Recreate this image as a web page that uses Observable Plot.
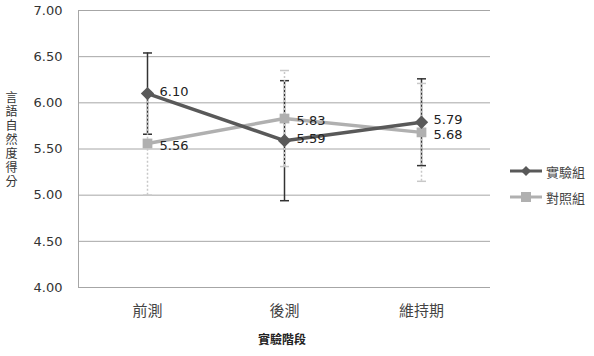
<!DOCTYPE html>
<html><head><meta charset="utf-8">
<script src="https://cdn.jsdelivr.net/npm/d3@7"></script>
<script src="https://cdn.jsdelivr.net/npm/@observablehq/plot@0.6"></script>
<style>
body{margin:0;background:#fff;font-family:"Noto Sans CJK TC","DejaVu Sans",sans-serif;}
#wrap{position:relative;width:594px;height:356px;}
#ytitle{position:absolute;left:3px;top:91px;writing-mode:vertical-rl;font-size:12px;color:#333;letter-spacing:2px;}
#xtitle{position:absolute;left:0;width:564px;top:330px;text-align:center;font-size:12px;color:#222;font-weight:bold;}
#legend{position:absolute;left:510px;top:158px;font-size:13px;color:#444;}
#legend div{display:flex;align-items:center;height:26px;}
#legend svg{margin-right:4px;}
</style></head>
<body><div id="wrap"><div id="chart"></div>
<div id="ytitle"></div><div id="xtitle"></div><div id="legend"></div></div>
<script>
const phases = ["前測", "後測", "維持期"];
const seriesNames = ["實驗組", "對照組"];
const expMean = [6.10, 5.59, 5.79];
const expSD = [0.44, 0.65, 0.47];
const ctlMean = [5.56, 5.83, 5.68];
const ctlSD = [0.56, 0.52, 0.53];
const yTicks = [4.0, 4.5, 5.0, 5.5, 6.0, 6.5, 7.0];
const yTitle = "言語自然度得分";
const xTitle = "實驗階段";
const colors = ["#595959", "#b0b0b0"];

const rows = [];
phases.forEach((p, i) => {
  rows.push({phase: p, group: seriesNames[0], mean: expMean[i], sd: expSD[i]});
  rows.push({phase: p, group: seriesNames[1], mean: ctlMean[i], sd: ctlSD[i]});
});
const exp = rows.filter(d => d.group === seriesNames[0]);
const ctl = rows.filter(d => d.group === seriesNames[1]);

const cap = {draw(ctx) { ctx.moveTo(-4.5, 0); ctx.lineTo(4.5, 0); }};

const chart = Plot.plot({
  width: 594, height: 356,
  marginLeft: 78, marginRight: 104, marginTop: 10, marginBottom: 69,
  style: {fontFamily: "'DejaVu Sans', sans-serif", fontSize: "13px", color: "#333"},
  x: {type: "point", domain: phases, padding: 0.5, label: null, tickSize: 0, tickPadding: 18},
  y: {domain: [4, 7], ticks: yTicks, tickFormat: d3.format(".2f"), label: null, tickSize: 0, tickPadding: 16},
  marks: [
    Plot.gridY(yTicks, {stroke: "#a6a6a6", strokeOpacity: 1, strokeWidth: 1}),
    Plot.frame({anchor: "left", stroke: "#a6a6a6"}),
    // experimental error bars
    Plot.ruleX(exp, {x: "phase", y1: d => d.mean - d.sd, y2: d => d.mean + d.sd, stroke: "#333", strokeWidth: 1.5}),
    Plot.dot(exp, {x: "phase", y: d => d.mean + d.sd, symbol: cap, stroke: "#333", strokeWidth: 1.5}),
    Plot.dot(exp, {x: "phase", y: d => d.mean - d.sd, symbol: cap, stroke: "#333", strokeWidth: 1.5}),
    // control error bars
    Plot.ruleX(ctl, {x: "phase", y1: d => d.mean - d.sd, y2: d => d.mean + d.sd, stroke: "#c8c8c8", strokeWidth: 1.5, strokeDasharray: "2,2"}),
    Plot.dot(ctl, {x: "phase", y: d => d.mean + d.sd, symbol: cap, stroke: "#c8c8c8", strokeWidth: 1.5}),
    Plot.dot(ctl, {x: "phase", y: d => d.mean - d.sd, symbol: cap, stroke: "#c8c8c8", strokeWidth: 1.5}),
    // lines
    Plot.line(ctl, {x: "phase", y: "mean", stroke: colors[1], strokeWidth: 3.5}),
    Plot.dot(ctl, {x: "phase", y: "mean", symbol: "square", r: 5.5, fill: colors[1], stroke: "none"}),
    Plot.line(exp, {x: "phase", y: "mean", stroke: colors[0], strokeWidth: 3.5}),
    Plot.dot(exp, {x: "phase", y: "mean", symbol: "diamond2", r: 6, fill: colors[0], stroke: "none"}),
    // labels
    Plot.text(exp, {x: "phase", y: "mean", text: d => d3.format(".2f")(d.mean), textAnchor: "start", dx: 12, dy: -2, fill: "#222", fontSize: 13}),
    Plot.text(ctl, {x: "phase", y: "mean", text: d => d3.format(".2f")(d.mean), textAnchor: "start", dx: 12, dy: 2, fill: "#222", fontSize: 13})
  ]
});
document.getElementById("chart").appendChild(chart);
d3.select(chart).selectAll("[aria-label='x-axis tick label'] text").style("font-size", "15px").style("font-family", "'Noto Sans CJK TC'").attr("fill", "#444");
document.getElementById("ytitle").textContent = yTitle;
document.getElementById("xtitle").textContent = xTitle;
const leg = document.getElementById("legend");
seriesNames.forEach((n, i) => {
  const sym = i === 0
    ? `<path d="M16,4 L21,9 L16,14 L11,9 Z" fill="${colors[0]}"/>`
    : `<rect x="11" y="4" width="10" height="10" fill="${colors[1]}"/>`;
  const div = document.createElement("div");
  div.innerHTML = `<svg width="32" height="18"><line x1="0" x2="32" y1="9" y2="9" stroke="${colors[i]}" stroke-width="3"/>${sym}</svg><span>${n}</span>`;
  leg.appendChild(div);
});
</script></body></html>
